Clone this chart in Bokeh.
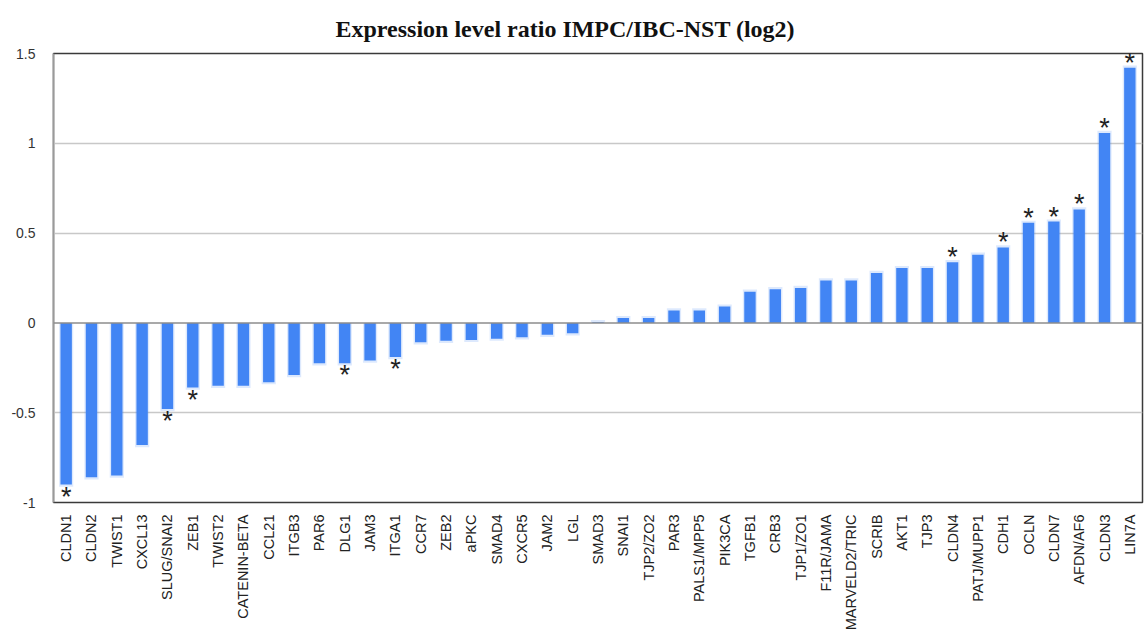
from bokeh.plotting import figure
from bokeh.models import FactorRange, FixedTicker, Span, ColumnDataSource
from bokeh.embed import file_html
from bokeh.resources import INLINE
from bokeh.core.properties import value
import math

genes = ["CLDN1", "CLDN2", "TWIST1", "CXCL13", "SLUG/SNAI2", "ZEB1", "TWIST2",
         "CATENIN-BETA", "CCL21", "ITGB3", "PAR6", "DLG1", "JAM3", "ITGA1", "CCR7",
         "ZEB2", "aPKC", "SMAD4", "CXCR5", "JAM2", "LGL", "SMAD3", "SNAI1",
         "TJP2/ZO2", "PAR3", "PALS1/MPP5", "PIK3CA", "TGFB1", "CRB3", "TJP1/ZO1",
         "F11R/JAMA", "MARVELD2/TRIC", "SCRIB", "AKT1", "TJP3", "CLDN4",
         "PATJ/MUPP1", "CDH1", "OCLN", "CLDN7", "AFDN/AF6", "CLDN3", "LIN7A"]

log2_ratio = [-0.90, -0.86, -0.85, -0.68, -0.48, -0.36, -0.35, -0.35, -0.33, -0.29,
              -0.225, -0.225, -0.21, -0.19, -0.108, -0.10, -0.095, -0.088, -0.08,
              -0.066, -0.058, 0.004, 0.027, 0.027, 0.069, 0.069, 0.091, 0.174, 0.188,
              0.195, 0.236, 0.236, 0.278, 0.305, 0.305, 0.338, 0.38, 0.42, 0.557,
              0.564, 0.632, 1.058, 1.421]

significant = ["CLDN1", "SLUG/SNAI2", "ZEB1", "DLG1", "ITGA1", "CLDN4", "CDH1",
               "OCLN", "CLDN7", "AFDN/AF6", "CLDN3", "LIN7A"]

y_ticks = [-1, -0.5, 0, 0.5, 1, 1.5]
y_tick_labels = ["-1", "-0.5", "0", "0.5", "1", "1.5"]

BLUE = "#4285F4"

p = figure(width=1146, height=633, x_range=FactorRange(*genes, range_padding=0),
           y_range=(-1, 1.5), output_backend="svg", toolbar_location=None,
           min_border_left=53, min_border_right=4, min_border_top=53,
           min_border_bottom=125)

p.title.text = "Expression level ratio IMPC/IBC-NST (log2)"
p.title.text_font = "Liberation Serif"
p.title.text_font_size = "24px"
p.title.text_font_style = "bold"
p.title.text_color = "#111111"
p.title.text_line_height = 0.5
p.title.align = "left"
p.title.offset = 282
p.title.standoff = 24

p.background_fill_color = "white"
p.border_fill_color = "white"
p.outline_line_color = "#3a3a3a"
p.outline_line_width = 1.5

src = ColumnDataSource(dict(gene=genes, val=log2_ratio,
                            halo=[v + (0.012 if v >= 0 else -0.012) for v in log2_ratio]))

# soft halo behind each bar
p.vbar(x="gene", top="halo", bottom=0, width=0.56, source=src,
       fill_color=BLUE, fill_alpha=0.18, line_color=None)
p.vbar(x="gene", top="val", bottom=0, width=0.45, source=src,
       fill_color=BLUE, line_color=None)

zero = Span(location=0, dimension="width", line_color="#8c8c8c", line_width=1.5)
p.add_layout(zero)

# asterisks marking significant genes
pos_g = [g for g, v in zip(genes, log2_ratio) if g in significant and v >= 0]
pos_v = [v for g, v in zip(genes, log2_ratio) if g in significant and v >= 0]
neg_g = [g for g, v in zip(genes, log2_ratio) if g in significant and v < 0]
neg_v = [v for g, v in zip(genes, log2_ratio) if g in significant and v < 0]
p.text(x=pos_g, y=pos_v, text=["*"] * len(pos_g), text_align="center",
       text_baseline="bottom", y_offset=10, text_font=value("Liberation Sans"),
       text_font_size="27px", text_color="#222222")
p.text(x=neg_g, y=neg_v, text=["*"] * len(neg_g), text_align="center",
       text_baseline="top", y_offset=-3, text_font=value("Liberation Sans"),
       text_font_size="27px", text_color="#222222")

# grid
p.xgrid.visible = False
p.ygrid.ticker = FixedTicker(ticks=[-0.5, 0.5, 1])
p.ygrid.grid_line_color = "#c8c8c8"
p.ygrid.grid_line_width = 1.5

# y axis
p.yaxis.ticker = FixedTicker(ticks=y_ticks)
p.yaxis.major_label_overrides = {t: s for t, s in zip(y_ticks, y_tick_labels)}
p.yaxis.major_tick_line_color = None
p.yaxis.minor_tick_line_color = None
p.yaxis.axis_line_color = "#9a9a9a"
p.yaxis.axis_line_width = 1.5
p.yaxis.major_label_text_font = "Liberation Sans"
p.yaxis.major_label_text_font_size = "14px"
p.yaxis.major_label_text_color = "#333333"
p.yaxis.major_label_standoff = 12

# x axis
p.xaxis.major_label_orientation = math.pi / 2
p.xaxis.major_tick_line_color = None
p.xaxis.axis_line_color = None
p.xaxis.major_label_text_font = "Liberation Sans"
p.xaxis.major_label_text_font_size = "14.5px"
p.xaxis.major_label_text_color = "#222222"
p.xaxis.major_label_standoff = 6

open("out.html", "w").write(file_html(p, INLINE))
